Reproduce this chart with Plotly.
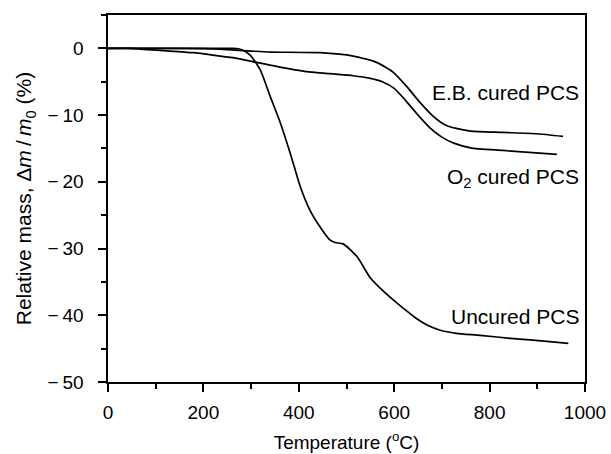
import plotly.graph_objects as go

# Uncured PCS
t_uncured = [0, 100, 200, 240, 262, 275, 286, 298, 319, 340, 361, 382, 403, 423, 444, 465, 476, 493,
             522, 549, 570, 598, 620, 645, 670, 695, 730, 780, 850, 920, 965]
m_uncured = [0, 0, 0, 0, 0, -0.1, -0.4, -1.0, -3.2, -7.2, -11.1, -15.7, -20.7, -24.2, -26.7, -28.7, -29.1, -29.3,
             -31.2, -34.3, -35.9, -37.7, -39.0, -40.4, -41.5, -42.2, -42.7, -43.0, -43.5, -43.9, -44.2]

# E.B. cured PCS
t_eb = [0, 100, 200, 250, 300, 340, 444, 514, 563, 598, 626, 654, 682, 705, 730, 760, 828, 899, 954]
m_eb = [0, 0, -0.05, -0.2, -0.4, -0.55, -0.65, -1.15, -2.1, -3.6, -5.7, -8.1, -10.2, -11.4, -12.0, -12.4,
        -12.6, -12.8, -13.2]

# O2 cured PCS
t_o2 = [0, 50, 73, 130, 178, 220, 262, 312, 360, 409, 465, 514, 550, 575, 600, 625, 650, 675, 700, 725,
        760, 828, 941]
m_o2 = [0, 0, -0.15, -0.4, -0.65, -1.0, -1.4, -2.1, -2.8, -3.4, -3.8, -4.1, -4.5, -5.0, -6.0, -7.9, -10.0,
        -11.9, -13.3, -14.2, -14.9, -15.3, -15.9]

labels = ["E.B. cured PCS", "O<sub>2</sub> cured PCS", "Uncured PCS"]
label_x = [990, 990, 990]
label_y = [-6.6, -19.4, -40.2]

x_ticks = [0, 200, 400, 600, 800, 1000]
y_ticks = [-50, -40, -30, -20, -10, 0]
y_ticktext = ["\u2212\u200950", "\u2212\u200940", "\u2212\u200930", "\u2212\u200920", "\u2212\u200910", "0"]

FONT = "Liberation Sans, Arial, sans-serif"

fig = go.Figure()
for t, m in [(t_uncured, m_uncured), (t_eb, m_eb), (t_o2, m_o2)]:
    fig.add_trace(go.Scatter(x=t, y=m, mode="lines",
                             line=dict(color="black", width=1.7, shape="spline", smoothing=0.6),
                             showlegend=False, hoverinfo="skip"))

for txt, lx, ly in zip(labels, label_x, label_y):
    fig.add_annotation(x=lx, y=ly, text=txt, showarrow=False, xanchor="right", yanchor="middle",
                       xshift=1, font=dict(family=FONT, size=21, color="black"))

axis_common = dict(showline=True, linecolor="black", linewidth=2, mirror=True, showgrid=False, zeroline=False,
                   ticks="outside", ticklen=8, tickwidth=1.5, tickcolor="black", automargin=False,
                   tickfont=dict(family=FONT, size=19, color="black"))

fig.update_xaxes(range=[0, 1000], tickvals=x_ticks, ticktext=[str(v) for v in x_ticks],
                 minor=dict(dtick=100, ticklen=5, tickwidth=1.5, tickcolor="black", ticks="outside"),
                 ticklabelstandoff=4,
                 title=dict(text="Temperature (<sup>o</sup>C)", font=dict(family=FONT, size=19, color="black"), standoff=14),
                 **axis_common)
fig.update_yaxes(range=[-50, 5], tickvals=y_ticks, ticktext=[s + "\u00a0\u00a0" for s in y_ticktext],
                 minor=dict(dtick=5, ticklen=5, tickwidth=1.5, tickcolor="black", ticks="outside"),
                 title=dict(text="Relative mass, \u0394<i>m</i>\u2009/\u2009<i>m</i><sub>0</sub> (%)",
                            font=dict(family=FONT, size=21, color="black"), standoff=10),
                 **axis_common)

fig.update_layout(width=611, height=454, margin=dict(l=108, r=26, t=15, b=72),
                  plot_bgcolor="white", paper_bgcolor="white")

fig.write_html("out.html")
